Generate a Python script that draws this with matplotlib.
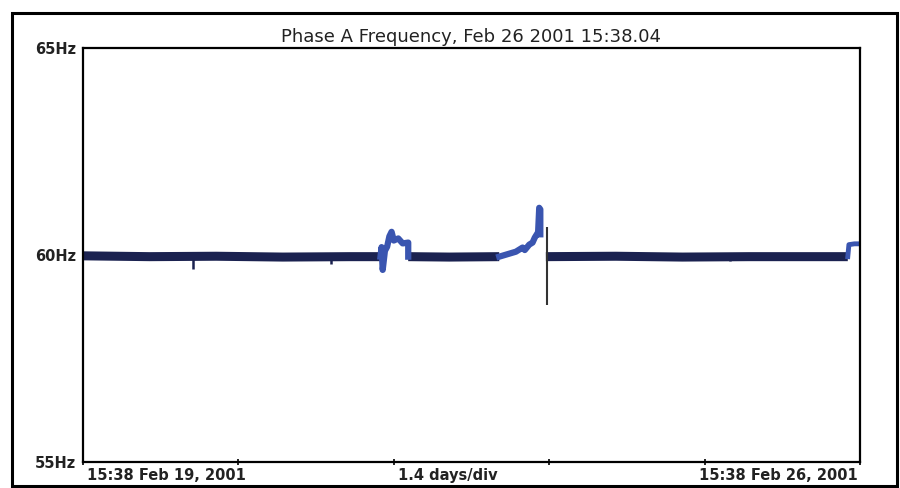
import matplotlib.pyplot as plt
from matplotlib.patches import Rectangle

# time in days from 15:38 Feb 19, frequency in Hz
band_segments = [
    ([0.0, 0.6, 1.2, 1.8, 2.4, 2.68], [59.98, 59.96, 59.97, 59.95, 59.96, 59.96]),
    ([2.93, 3.3, 3.75], [59.96, 59.95, 59.96]),
    ([4.17, 4.8, 5.4, 6.0, 6.6, 6.89], [59.96, 59.97, 59.95, 59.96, 59.96, 59.96]),
]

event1_t = [2.68, 2.69, 2.70, 2.72, 2.74, 2.76, 2.78, 2.80, 2.84, 2.88, 2.93, 2.93]
event1_f = [59.96, 60.19, 59.64, 60.1, 60.2, 60.45, 60.56, 60.35, 60.4, 60.28, 60.3, 59.96]

event2_t = [3.75, 3.90, 3.96, 3.98, 4.02, 4.05, 4.07, 4.10, 4.11, 4.12, 4.12]
event2_f = [59.96, 60.08, 60.18, 60.12, 60.25, 60.3, 60.42, 60.55, 61.14, 61.1, 60.5]

drop_t = 4.18
drop_lo, drop_hi = 58.79, 60.68

end_t = [6.89, 6.90, 6.95, 7.0]
end_f = [59.96, 60.25, 60.27, 60.27]

dip_t = [0.99, 2.23, 5.83]
dip_f = [59.66, 59.78, 59.85]

y_ticks = [55, 60, 65]
y_labels = ['55Hz', '60Hz', '65Hz']
x_ticks = [0, 1.4, 2.8, 4.2, 5.6, 7.0]

title = 'Phase A Frequency, Feb 26 2001 15:38.04'
left_label = '15:38 Feb 19, 2001'
mid_label = '1.4 days/div'
right_label = '15:38 Feb 26, 2001'

navy = '#1b2250'
blue = '#3a55b0'
ink = '#222222'

fig = plt.figure(figsize=(9, 4.88), dpi=100)
fig.patches.append(Rectangle((12 / 900, 1 - 486 / 488), 885 / 900, 473 / 488,
                             transform=fig.transFigure, fill=False,
                             edgecolor='black', linewidth=2.2))
ax = fig.add_axes([83 / 900, 1 - 462 / 488, 777 / 900, 414 / 488])

for t, f in band_segments:
    ax.plot(t, f, color=navy, linewidth=6.5, solid_capstyle='butt')
ax.plot(event1_t, event1_f, color=blue, linewidth=4.5)
ax.plot(event2_t, event2_f, color=blue, linewidth=4.5)
ax.plot(end_t, end_f, color=blue, linewidth=3.5)
ax.vlines(drop_t, drop_lo, drop_hi, color='#333333', linewidth=1.5)
ax.vlines(dip_t, dip_f, [59.96] * len(dip_t), color=navy, linewidth=1.8)

ax.set_xlim(0, 7)
ax.set_ylim(55, 65)
ax.set_yticks(y_ticks)
ax.set_yticklabels(y_labels, fontsize=10.5, fontweight='bold', color=ink)
ax.tick_params(axis='y', length=0, pad=5)
ax.set_xticks(x_ticks)
ax.set_xticklabels([])
ax.tick_params(axis='x', direction='inout', length=5, width=1.2)
for s in ax.spines.values():
    s.set_linewidth(1.6)
    s.set_color('black')

ax.set_title(title, fontsize=13, pad=4, color=ink)
ax.text(0.005, -0.015, left_label, transform=ax.transAxes, ha='left', va='top',
        fontsize=10.5, fontweight='bold', color=ink)
ax.text(0.47, -0.015, mid_label, transform=ax.transAxes, ha='center', va='top',
        fontsize=10.5, fontweight='bold', color=ink)
ax.text(0.997, -0.015, right_label, transform=ax.transAxes, ha='right', va='top',
        fontsize=10.5, fontweight='bold', color=ink)

fig.savefig('out.png', dpi=100)
